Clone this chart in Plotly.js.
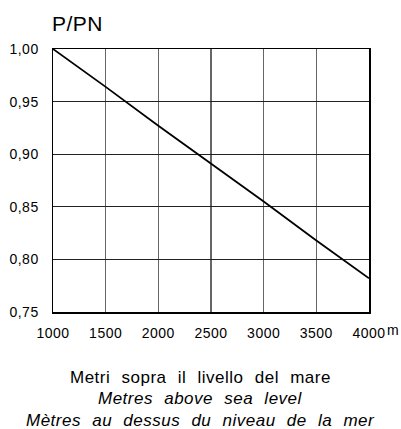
<!DOCTYPE html>
<html>
<head>
<meta charset="utf-8">
<script src="https://cdn.plot.ly/plotly-3.0.1.min.js"></script>
<style>
html,body{margin:0;padding:0;background:#fff;}
#chart{width:401px;height:429px;}
.xtick text, .ytick text {letter-spacing:0.5px;}
.annotation-text {letter-spacing:0.5px;}
.cap .annotation-text {word-spacing:6px;}
</style>
</head>
<body>
<div id="chart"></div>
<script>
const altitude = [1000, 1500, 2000, 2500, 3000, 3500, 4000];
const ratio = [1.00, 0.964, 0.927, 0.891, 0.855, 0.818, 0.782];
const xTicks = [1000, 1500, 2000, 2500, 3000, 3500, 4000];
const yTicks = [0.75, 0.80, 0.85, 0.90, 0.95, 1.00];
const titleText = 'P/PN';
const unitText = 'm';
const captionLines = ['Metri sopra il livello del mare', '<i>Metres above sea level</i>', '<i>Mètres au dessus du niveau de la mer</i>'];

const font = 'Liberation Sans, Arial, Helvetica, sans-serif';
const data = [{
  x: altitude, y: ratio, type: 'scatter', mode: 'lines',
  line: {color: '#000', width: 1.8}, hoverinfo: 'skip'
}];
const annotations = [
  {text: titleText, xref: 'paper', yref: 'paper', x: 0, y: 1, xanchor: 'left', yanchor: 'bottom', yshift: 12, xshift: -3, showarrow: false, font: {family: font, size: 21, color: '#000'}},
  {text: unitText, xref: 'paper', yref: 'paper', x: 1, y: 0, xanchor: 'left', yanchor: 'top', xshift: 16, yshift: -8, showarrow: false, font: {family: font, size: 14, color: '#000'}}
];
captionLines.forEach((t, i) => {
  annotations.push({text: t, xref: 'paper', yref: 'paper', x: 0.466, y: 0, xanchor: 'center', yanchor: 'middle', yshift: -65 - i * 21.5, showarrow: false, font: {family: font, size: 17, color: '#000'}});
});
const layout = {
  width: 401, height: 429,
  margin: {l: 53, r: 32, t: 49, b: 117},
  paper_bgcolor: '#fff', plot_bgcolor: '#fff',
  separators: ',.',
  showlegend: false,
  xaxis: {range: [1000, 4000], tickvals: xTicks, tickformat: 'd', showgrid: true, gridcolor: '#666', gridwidth: 1.5,
    zeroline: false, showline: true, linecolor: '#000', linewidth: 1.5, mirror: true,
    ticks: 'outside', ticklen: 8, tickcolor: 'rgba(0,0,0,0)', tickfont: {family: font, size: 14, color: '#000'}},
  yaxis: {range: [0.75, 1.00], tickvals: yTicks, tickformat: '.2f', showgrid: true, gridcolor: '#222', gridwidth: 1.2,
    zeroline: false, showline: true, linecolor: '#000', linewidth: 1.5, mirror: true,
    ticks: 'outside', ticklen: 10, tickcolor: 'rgba(0,0,0,0)', tickfont: {family: font, size: 14, color: '#000'}},
  annotations: annotations
};
Plotly.newPlot('chart', data, layout, {displayModeBar: false, staticPlot: true}).then(() => {
  const anns = document.querySelectorAll('.annotation');
  anns.forEach((a, i) => { if (i >= 2) a.classList.add('cap'); });
});
</script>
</body>
</html>
